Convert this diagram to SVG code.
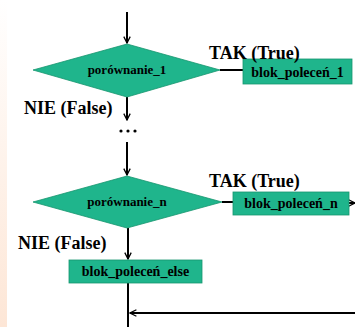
<svg xmlns="http://www.w3.org/2000/svg" width="355" height="327" viewBox="0 0 355 327">
<defs>
<linearGradient id="strip" x1="0" y1="0" x2="0" y2="1">
<stop offset="0" stop-color="#ffffff"/>
<stop offset="1" stop-color="#fde6d6"/>
</linearGradient>
<marker id="ah" viewBox="0 0 10 10" refX="9" refY="5" markerWidth="8" markerHeight="8" markerUnits="userSpaceOnUse" orient="auto">
<path d="M1,1 L9,5 L1,9" fill="none" stroke="#000" stroke-width="1.6"/>
</marker>
</defs>
<style>
.shape{fill:#1fb58c;stroke:#17966f;stroke-width:0.8}
.lbl{font-weight:bold;fill:#000}
.big{font-size:18px}
.box{font-size:14px;text-anchor:middle}
.dia{font-size:13px;text-anchor:middle}
.ln{stroke:#000;stroke-width:2;fill:none}
</style>
<rect x="0" y="0" width="355" height="327" fill="#ffffff"/>
<rect x="0" y="0" width="7" height="327" fill="url(#strip)"/>

<g id="connectors">
<line class="ln" x1="127" y1="12" x2="127" y2="43" marker-end="url(#ah)"/>
<line class="ln" x1="220" y1="70" x2="243" y2="70"/>
<line class="ln" x1="127" y1="97" x2="127" y2="120" marker-end="url(#ah)"/>
<line class="ln" x1="127" y1="142" x2="127" y2="175" marker-end="url(#ah)"/>
<line class="ln" x1="222" y1="202" x2="233" y2="202"/>
<line class="ln" x1="349" y1="203" x2="355" y2="203" marker-end="url(#ah)"/>
<line class="ln" x1="128" y1="228" x2="128" y2="259" marker-end="url(#ah)"/>
<line class="ln" x1="128" y1="283" x2="128" y2="327"/>
<line class="ln" x1="355" y1="313" x2="130" y2="313" marker-end="url(#ah)"/>
</g>

<g id="dots">
<circle cx="121" cy="131" r="1.6" fill="#000"/>
<circle cx="128" cy="131" r="1.6" fill="#000"/>
<circle cx="135" cy="131" r="1.6" fill="#000"/>
</g>

<g font-family="'Liberation Serif', 'Times New Roman', 'DejaVu Serif', serif">
<g id="cmp1">
<polygon class="shape" points="127,44 220,70 127,97 33,70"/>
<text class="lbl dia" x="127" y="74">porównanie_1</text>
</g>

<g id="blok1">
<rect class="shape" x="243" y="59" width="109" height="25"/>
<text class="lbl box" x="297.5" y="76.5">blok_poleceń_1</text>
</g>

<g id="cmpn">
<polygon class="shape" points="127,176 222,202 127,228 33,202"/>
<text class="lbl dia" x="127" y="206">porównanie_n</text>
</g>

<g id="blokn">
<rect class="shape" x="233" y="192" width="116" height="23"/>
<text class="lbl box" x="291" y="208">blok_poleceń_n</text>
</g>

<g id="blokelse">
<rect class="shape" x="69" y="260" width="133" height="23"/>
<text class="lbl box" x="135.5" y="276">blok_poleceń_else</text>
</g>

<g id="labels">
<text class="lbl big" x="209" y="59">TAK (True)</text>
<text class="lbl big" x="24" y="114">NIE (False)</text>
<text class="lbl big" x="209" y="187">TAK (True)</text>
<text class="lbl big" x="18" y="249">NIE (False)</text>
</g>
</g>
</svg>
